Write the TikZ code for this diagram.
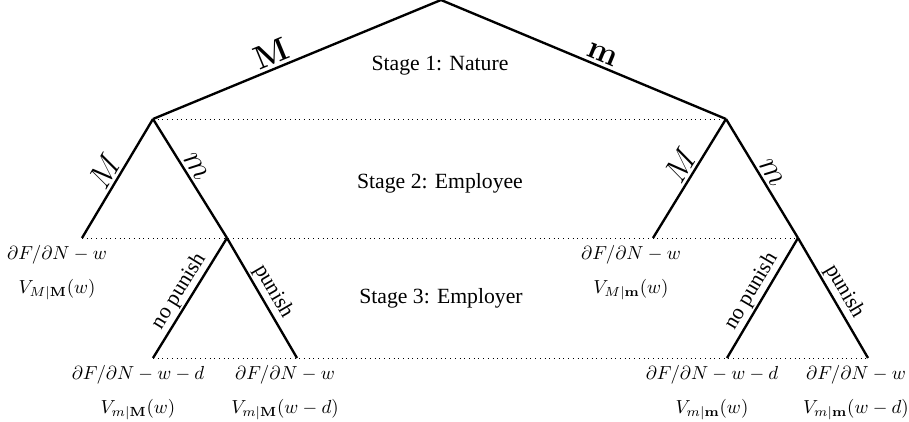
\documentclass[tikz,border=0pt]{standalone}
\usepackage{amsmath,amssymb}
\usepackage[no-math]{fontspec}
\setmainfont{Liberation Serif}
\usepackage{tikz}
\usetikzlibrary{positioning}

\tikzset{
  branch/.style={line width=1.25pt},
  stageline/.style={dotted, line width=0.5pt},
  choice/.style={sloped, above, inner sep=1.5pt},
  move/.style={choice, font=\LARGE},
  action/.style={choice, inner sep=1pt, font=\fontsize{11.5}{14}\selectfont},
  payoff/.style={align=center, anchor=north, inner sep=0pt},
  stagetext/.style={font=\fontsize{11.5}{14}\selectfont},
}

\begin{document}
\begin{tikzpicture}[x=0.53pt, y=-0.53pt]
    \useasboundingbox (0,0) rectangle (909,422);

    % Decision points
    \coordinate (root) at (441,0);
    \coordinate (natM) at (153,119);
    \coordinate (natm) at (726,119);
    \coordinate (leafMM) at (82,238);
    \coordinate (empM) at (227,238);
    \coordinate (leafMm) at (653,238);
    \coordinate (empm) at (798,238);
    \coordinate (leafNM) at (153,358);
    \coordinate (leafPM) at (297,358);
    \coordinate (leafNm) at (727,358);
    \coordinate (leafPm) at (868,358);

    % Stage separators
    \draw[stageline] (natM) -- (natm);
    \draw[stageline] (leafMM) -- (empm);
    \draw[stageline] (leafNM) -- (leafPm);

    % Stage names
    \node[stagetext] (stage1) at (440,66) {Stage 1: Nature};
    \node[stagetext] (stage2) at (440,183) {Stage 2: Employee};
    \node[stagetext] (stage3) at (441,298) {Stage 3: Employer};

    % Stage 1
    \draw[branch] (root) -- node[move, pos=0.57] {$\mathbf{M}$} (natM);
    \draw[branch] (root) -- node[move, pos=0.55] {$\mathbf{m}$} (natm);

    % Stage 2
    \draw[branch] (natM) -- node[move] {$M$} (leafMM);
    \draw[branch] (natM) -- node[move, pos=0.45] {$m$} (empM);
    \draw[branch] (natm) -- node[move, pos=0.45] {$M$} (leafMm);
    \draw[branch] (natm) -- node[move, pos=0.5] {$m$} (empm);

    % Stage 3
    \draw[branch] (empM) -- node[action] {no punish} (leafNM);
    \draw[branch] (empM) -- node[action] {punish} (leafPM);
    \draw[branch] (empm) -- node[action] {no punish} (leafNm);
    \draw[branch] (empm) -- node[action] {punish} (leafPm);

    % Payoffs
    \node[payoff] (payMM) at (57,245) {$\partial F/\partial N - w$\\[6pt] $V_{M|\mathbf{M}}(w)$};
    \node[payoff] (payMm) at (631,245) {$\partial F/\partial N - w$\\[6pt] $V_{M|\mathbf{m}}(w)$};
    \node[payoff] (payNM) at (138,365) {$\partial F/\partial N - w - d$\\[6pt] $V_{m|\mathbf{M}}(w)$};
    \node[payoff] (payPM) at (285,365) {$\partial F/\partial N - w$\\[6pt] $V_{m|\mathbf{M}}(w-d)$};
    \node[payoff] (payNm) at (712,365) {$\partial F/\partial N - w - d$\\[6pt] $V_{m|\mathbf{m}}(w)$};
    \node[payoff] (payPm) at (856,365) {$\partial F/\partial N - w$\\[6pt] $V_{m|\mathbf{m}}(w-d)$};
\end{tikzpicture}
\end{document}
